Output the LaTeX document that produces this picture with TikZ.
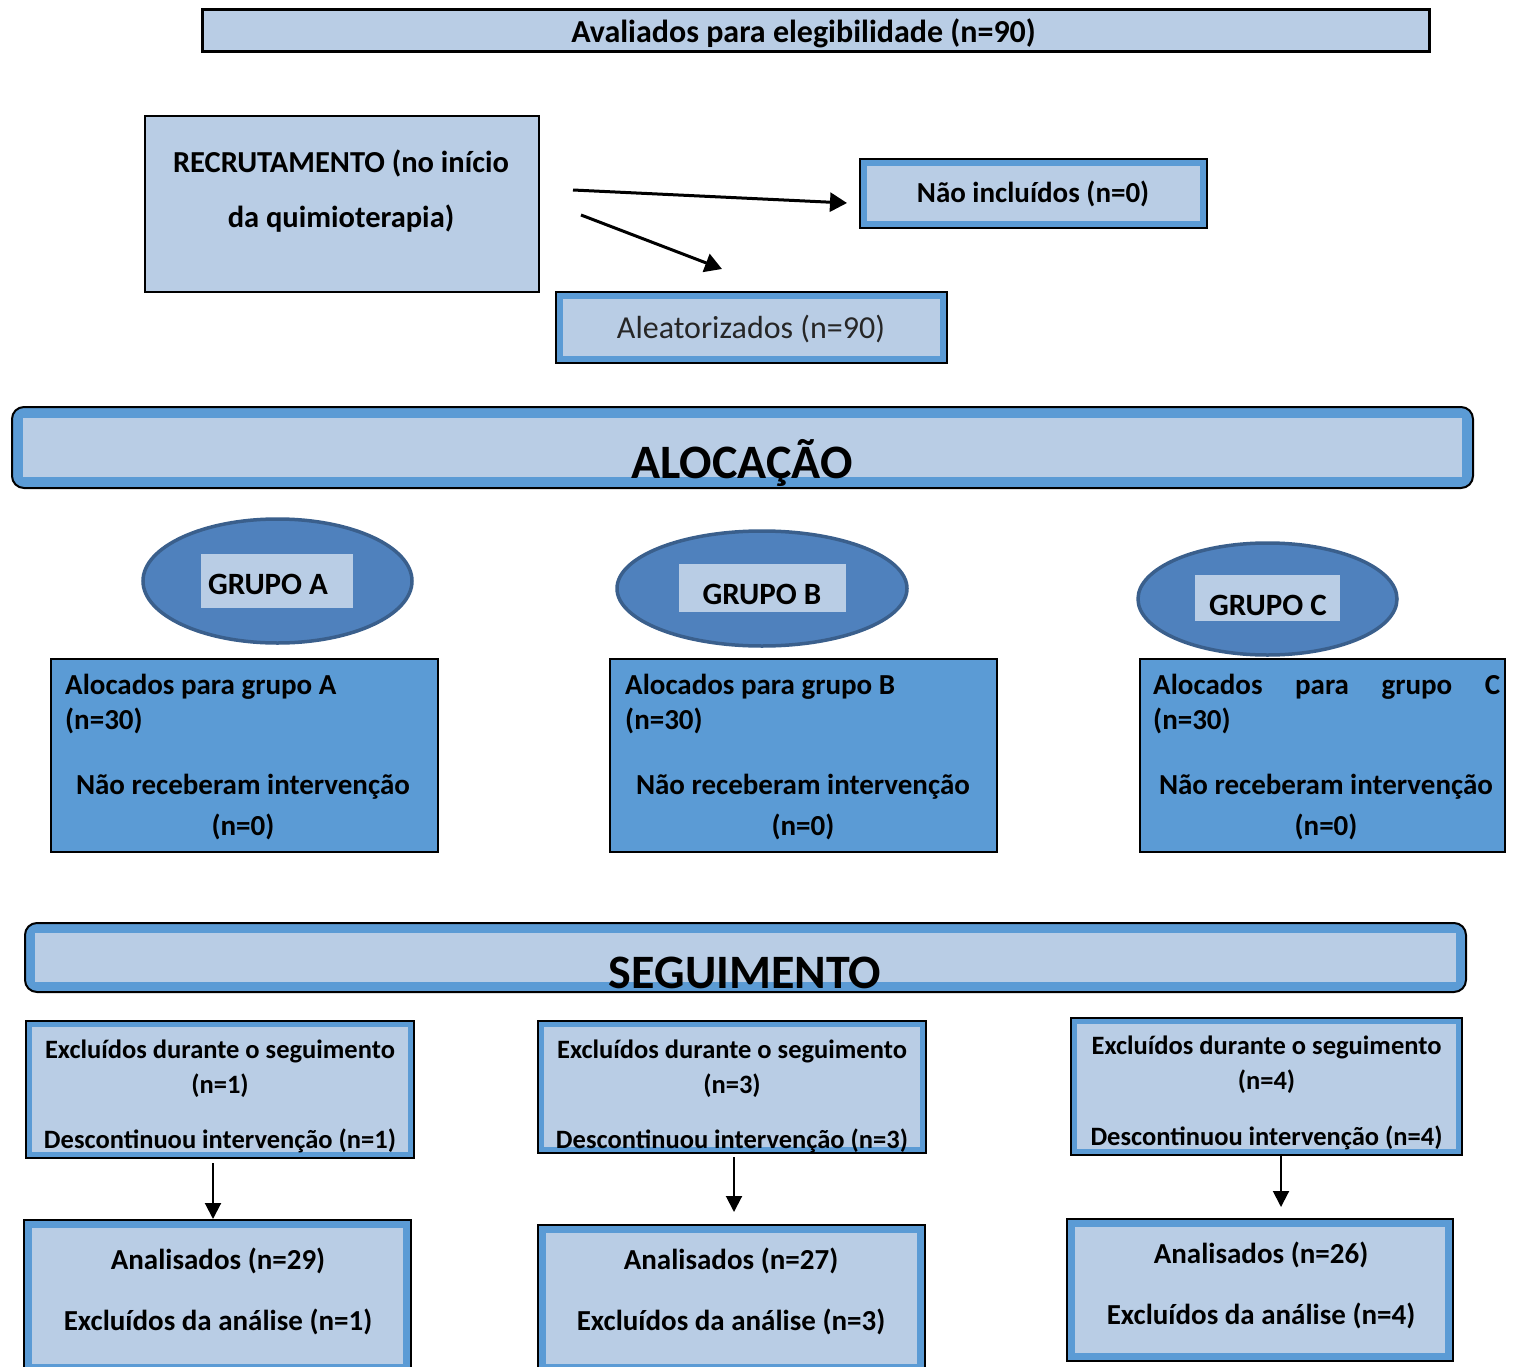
\documentclass[tikz,border=0pt]{standalone}
\usepackage{fontspec}
\setmainfont{Carlito}
\usetikzlibrary{arrows.meta,shapes.geometric}
\definecolor{lb}{HTML}{B9CDE5}
\definecolor{mb}{HTML}{5B9BD5}
\definecolor{eb}{HTML}{4F81BD}
\definecolor{ed}{HTML}{3A5F8C}
\begin{document}
\begin{tikzpicture}[x=1pt,y=-1pt,
  plainbox/.style={draw=black, line width=2pt, fill=lb, inner sep=0pt},
  dblbox/.style={draw=black, line width=2pt, fill=mb, inner sep=0pt,
    path picture={\fill[lb, sharp corners] ([shift={(#1pt,-#1pt)}]path picture bounding box.north west) rectangle ([shift={(-#1pt,#1pt)}]path picture bounding box.south east);}},
  alocbox/.style={draw=black, line width=2.5pt, fill=mb, inner sep=0pt},
  grp/.style={ellipse, draw=ed, line width=3.5pt, fill=eb, inner sep=0pt},
  grplabel/.style={fill=lb, inner sep=0pt},
  txt/.style={inner sep=0pt, align=center, font=\fontsize{29}{35}\selectfont\bfseries},
  arr/.style={line width=3pt, -{Triangle[length=17pt,width=19pt]}},
  varr/.style={line width=2pt, -{Triangle[length=16pt,width=16pt]}}
]
\useasboundingbox (0,0) rectangle (1520,1367);

% top
\node[plainbox, line width=3pt, minimum width=1227pt, minimum height=42pt] (aval) at (815.5,31) {};
\node[txt, font=\fontsize{32}{38}\selectfont\bfseries] (avalt) at (803.5,33) {Avaliados para elegibilidade (n=90)};

% recruitment
\node[plainbox, minimum width=394pt, minimum height=176pt] (recr) at (342,204) {};
\node[txt, font=\fontsize{30.5}{55}\selectfont\bfseries] (recrt) at (341,191.5) {RECRUTAMENTO (no início\\da quimioterapia)};

\node[dblbox=7, minimum width=347pt, minimum height=69pt] (naoinc) at (1033.5,193.5) {};
\node[txt] (naoinct) at (1033,194) {Não incluídos (n=0)};

\node[dblbox=7, minimum width=391pt, minimum height=71pt] (aleat) at (751.5,327.5) {};
\node[txt, font=\fontsize{32}{38}\selectfont, text=black!85] (aleatt) at (751,329) {Aleatorizados (n=90)};

\coordinate (a1s) at (573,190);
\coordinate (a1e) at (847,203);
\coordinate (a2s) at (581,215);
\coordinate (a2e) at (722,269);
\draw[arr] (a1s) -- (a1e);
\draw[arr] (a2s) -- (a2e);

% ALOCACAO band
\node[dblbox=11, rounded corners=12pt, minimum width=1461pt, minimum height=81pt] (aloc) at (742.5,447.5) {};
\node[txt, font=\fontsize{48}{56}\selectfont\bfseries] (aloct) at (742,463) {ALOCAÇÃO};

% groups
\node[grp, minimum width=269pt, minimum height=124pt] (gA) at (277.5,581) {};
\node[grplabel, minimum width=152pt, minimum height=54pt] (gAl) at (277,581) {};
\node[txt, font=\fontsize{31}{36}\selectfont\bfseries] (gAt) at (268,584) {GRUPO A};

\node[grp, minimum width=290pt, minimum height=115pt] (gB) at (762,588.5) {};
\node[grplabel, minimum width=167pt, minimum height=48pt] (gBl) at (762.5,588) {};
\node[txt, font=\fontsize{31}{36}\selectfont\bfseries] (gBt) at (762,594) {GRUPO B};

\node[grp, minimum width=259pt, minimum height=112pt] (gC) at (1267.5,599) {};
\node[grplabel, minimum width=145pt, minimum height=46pt] (gCl) at (1267.5,598) {};
\node[txt, font=\fontsize{31}{36}\selectfont\bfseries] (gCt) at (1268,605) {GRUPO C};

% allocated boxes
\node[alocbox, minimum width=387pt, minimum height=193pt] (alA) at (244.5,755.5) {};
\node[txt, anchor=west, align=left] (alAh) at (65,704.5) {Alocados para grupo A\\(n=30)};
\node[txt, font=\fontsize{29}{41}\selectfont\bfseries] (alAf) at (243,807.5) {Não receberam intervenção\\(n=0)};

\node[alocbox, minimum width=387pt, minimum height=193pt] (alB) at (803.5,755.5) {};
\node[txt, anchor=west, align=left] (alBh) at (625,704.5) {Alocados para grupo B\\(n=30)};
\node[txt, font=\fontsize{29}{41}\selectfont\bfseries] (alBf) at (803,807.5) {Não receberam intervenção\\(n=0)};

\node[alocbox, minimum width=365pt, minimum height=193pt] (alC) at (1322.5,755.5) {};
\node[txt, anchor=west, align=left] (alCh) at (1153,704.5) {\hbox to 347pt{Alocados\hfill para\hfill grupo\hfill C}\\(n=30)};
\node[txt, font=\fontsize{29}{41}\selectfont\bfseries] (alCf) at (1326,807.5) {Não receberam intervenção\\(n=0)};

% SEGUIMENTO band
\node[dblbox=10, rounded corners=12pt, minimum width=1441pt, minimum height=69pt] (seg) at (745.5,957.5) {};
\node[txt, font=\fontsize{48}{56}\selectfont\bfseries] (segt) at (745,973) {SEGUIMENTO};

% excluded boxes
\node[dblbox=6, minimum width=388pt, minimum height=137pt] (exA) at (220,1089.5) {};
\node[txt, font=\fontsize{26.5}{35}\selectfont\bfseries] (exAt) at (220,1068.5) {Excluídos durante o seguimento\\(n=1)};
\node[txt, font=\fontsize{26.5}{35}\selectfont\bfseries] (exAd) at (220,1141) {Descontinuou intervenção (n=1)};

\node[dblbox=6, minimum width=388pt, minimum height=132pt] (exB) at (732,1087) {};
\node[txt, font=\fontsize{26.5}{35}\selectfont\bfseries] (exBt) at (732,1068.5) {Excluídos durante o seguimento\\(n=3)};
\node[txt, font=\fontsize{26.5}{35}\selectfont\bfseries] (exBd) at (732,1141) {Descontinuou intervenção (n=3)};

\node[dblbox=6, minimum width=391pt, minimum height=137pt] (exC) at (1266.5,1086.5) {};
\node[txt, font=\fontsize{26.5}{35}\selectfont\bfseries] (exCt) at (1266.5,1064.5) {Excluídos durante o seguimento\\(n=4)};
\node[txt, font=\fontsize{26.5}{35}\selectfont\bfseries] (exCd) at (1266.5,1138) {Descontinuou intervenção (n=4)};

% analysed boxes
\node[dblbox=8, minimum width=387pt, minimum height=152pt] (anA) at (217.5,1296) {};
\node[txt, font=\fontsize{29}{61}\selectfont\bfseries] (anAt) at (218,1291.5) {Analisados (n=29)\\Excluídos da análise (n=1)};

\node[dblbox=8, minimum width=387pt, minimum height=147pt] (anB) at (731.5,1298.5) {};
\node[txt, font=\fontsize{29}{61}\selectfont\bfseries] (anBt) at (731,1291) {Analisados (n=27)\\Excluídos da análise (n=3)};

\node[dblbox=8, minimum width=386pt, minimum height=142pt] (anC) at (1260,1290) {};
\node[txt, font=\fontsize{29}{61}\selectfont\bfseries] (anCt) at (1261,1285) {Analisados (n=26)\\Excluídos da análise (n=4)};

% vertical arrows
\draw[varr] ([xshift=-7pt,yshift=-4pt]exA.south) -- ([xshift=-4.5pt,yshift=0pt]anA.north);
\draw[varr] ([xshift=2pt,yshift=-3pt]exB.south) -- ([xshift=2.5pt,yshift=12pt]anB.north);
\draw[varr] ([xshift=14.5pt]exC.south) -- ([xshift=21pt,yshift=11pt]anC.north);
\end{tikzpicture}
\end{document}
